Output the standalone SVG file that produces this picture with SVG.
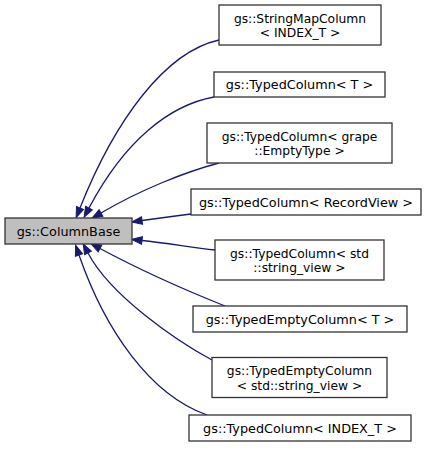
<svg xmlns="http://www.w3.org/2000/svg" width="425" height="455" viewBox="0 0 425 455">
<style>
.n rect{fill:#ffffff;stroke:#333333;stroke-width:1.3}
#base rect{fill:#bfbfbf}
text{font-family:"DejaVu Sans",sans-serif;font-size:12.8px;fill:#000;text-anchor:middle}
text.two{font-size:12.3px}
.e path{fill:none;stroke:#191970;stroke-width:1.3;marker-end:url(#ah)}
</style>
<defs>
<marker id="ah" markerUnits="userSpaceOnUse" markerWidth="14" markerHeight="10" refX="0" refY="5" orient="auto" viewBox="-1 -5 14 10" overflow="visible">
<path d="M0,-3.8 L10.5,0 L0,3.8 z" transform="translate(0,5)" fill="#191970" stroke="#191970" stroke-width="1"/>
</marker>
</defs>
<rect width="425" height="455" fill="#ffffff"/>
<g class="e" id="edges">
<path d="M219,40 C165,52 115,120 80,208"/>
<path d="M214,97 C170,105 125,140 89,208"/>
<path d="M219,163 C185,172 140,190 101,213"/>
<path d="M191,214 C175,216 160,218 142,220.5"/>
<path d="M215,250 C190,247 165,243 142,240.5"/>
<path d="M225,306 C190,292 140,270 100,248.5"/>
<path d="M212,360 C175,340 110,295 88,253"/>
<path d="M207,415 C150,395 105,330 79,255"/>
</g>
<g class="n" id="base"><rect x="5" y="218" width="127" height="26"/><text x="68.5" y="235.5">gs::ColumnBase</text></g>
<g class="n" id="n1"><rect x="219" y="5" width="162" height="40"/><text class="two" x="300" y="22.5">gs::StringMapColumn</text><text class="two" x="300" y="37">&lt; INDEX_T &gt;</text></g>
<g class="n" id="n2"><rect x="214" y="72" width="171" height="25"/><text x="299.5" y="89">gs::TypedColumn&lt; T &gt;</text></g>
<g class="n" id="n3"><rect x="207" y="123" width="185" height="40"/><text class="two" x="299.5" y="140.5">gs::TypedColumn&lt; grape</text><text class="two" x="299.5" y="155">::EmptyType &gt;</text></g>
<g class="n" id="n4"><rect x="191" y="189" width="230" height="26"/><text x="306" y="206.5">gs::TypedColumn&lt; RecordView &gt;</text></g>
<g class="n" id="n5"><rect x="215" y="240" width="169" height="40"/><text class="two" x="299.5" y="257.5">gs::TypedColumn&lt; std</text><text class="two" x="299.5" y="272">::string_view &gt;</text></g>
<g class="n" id="n6"><rect x="193" y="306" width="214" height="26"/><text x="300" y="323.5">gs::TypedEmptyColumn&lt; T &gt;</text></g>
<g class="n" id="n7"><rect x="212" y="357.5" width="175" height="40"/><text class="two" x="299.5" y="375">gs::TypedEmptyColumn</text><text class="two" x="299.5" y="389.5">&lt; std::string_view &gt;</text></g>
<g class="n" id="n8"><rect x="189" y="415" width="222" height="26"/><text x="300" y="432.5">gs::TypedColumn&lt; INDEX_T &gt;</text></g>
</svg>
